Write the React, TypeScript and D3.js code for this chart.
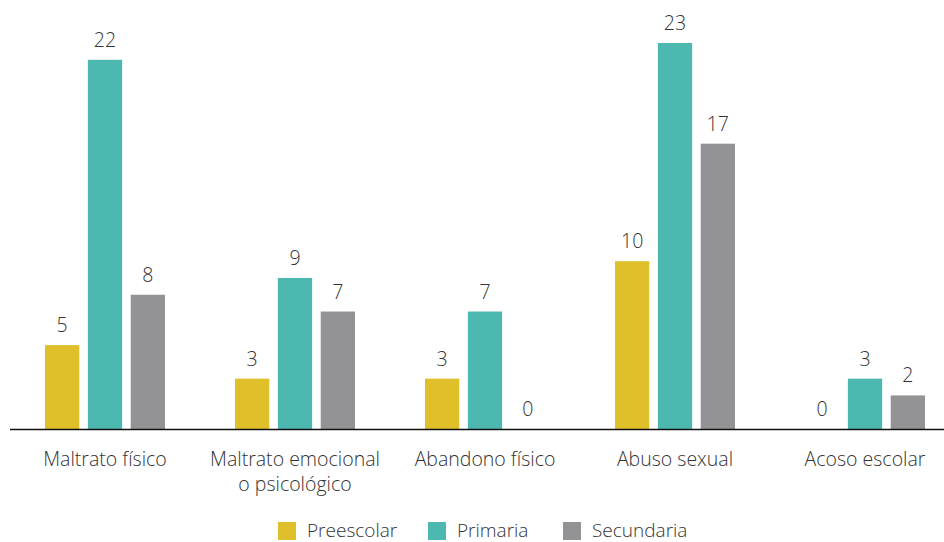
import { useEffect, useRef } from "react";
import * as d3 from "d3";

const CATEGORIES = [
  "Maltrato físico",
  "Maltrato emocional|o psicológico",
  "Abandono físico",
  "Abuso sexual",
  "Acoso escolar",
];
const SERIES = ["Preescolar", "Primaria", "Secundaria"];
const COLORS = ["#dfbf2a", "#4db8b0", "#939395"];
const PREESCOLAR = [5, 3, 3, 10, 0];
const PRIMARIA = [22, 9, 7, 23, 3];
const SECUNDARIA = [8, 7, 0, 17, 2];

const W = 944;
const H = 542;
const FONT = "'Open Sans', Lato, sans-serif";

export default function App() {
  const ref = useRef<SVGSVGElement | null>(null);

  useEffect(() => {
    if (!ref.current) return;
    const svg = d3.select(ref.current);
    svg.selectAll("*").remove();

    const values = [PREESCOLAR, PRIMARIA, SECUNDARIA];
    const baseY = 429;

    const x0 = d3.scaleBand().domain(CATEGORIES).range([10, 960]).padding(0);
    const x1 = d3.scaleBand().domain(SERIES).range([0, 120]).paddingInner(0.2);
    const y = d3.scaleLinear().domain([0, 23]).range([baseY, 43]);
    const off = (x0.bandwidth() - 120) / 2;

    const groups = svg.selectAll("g.grp")
      .data(CATEGORIES)
      .join("g")
      .attr("class", "grp")
      .attr("transform", d => `translate(${(x0(d) || 0) + off},0)`);

    groups.each(function (cat, ci) {
      const g = d3.select(this);
      SERIES.forEach((s, si) => {
        const v = values[si][ci];
        const bx = x1(s) || 0;
        if (v > 0) {
          g.append("rect")
            .attr("x", bx)
            .attr("y", y(v))
            .attr("width", x1.bandwidth())
            .attr("height", baseY - y(v))
            .attr("fill", COLORS[si]);
        }
        g.append("text")
          .attr("x", bx + x1.bandwidth() / 2)
          .attr("y", y(v) - 13)
          .attr("text-anchor", "middle")
          .style("font-family", FONT)
          .style("font-weight", 300)
          .style("font-size", "19.5px")
          .style("fill", "#333")
          .text(v);
      });
    });

    // axis line
    svg.append("line")
      .attr("x1", 10).attr("x2", W)
      .attr("y1", baseY + 0.5).attr("y2", baseY + 0.5)
      .attr("stroke", "#111")
      .attr("stroke-width", 1.5);

    // category labels
    CATEGORIES.forEach(c => {
      const lines = c.split("|");
      const t = svg.append("text")
        .attr("text-anchor", "middle")
        .style("font-family", FONT)
        .style("font-weight", 300)
        .style("font-size", "19.5px")
        .style("fill", "#333");
      lines.forEach((ln, i) => {
        t.append("tspan")
          .attr("x", (x0(c) || 0) + x0.bandwidth() / 2)
          .attr("y", 466 + i * 25)
          .text(ln);
      });
    });

    // legend
    const legendX = [278, 428, 563];
    SERIES.forEach((s, i) => {
      svg.append("rect")
        .attr("x", legendX[i]).attr("y", 522)
        .attr("width", 18).attr("height", 18)
        .attr("fill", COLORS[i]);
      svg.append("text")
        .attr("x", legendX[i] + 29).attr("y", 537)
        .style("font-family", FONT)
        .style("font-weight", 300)
        .style("font-size", "19px")
        .style("fill", "#333")
        .text(s);
    });
  }, []);

  return (
    <svg
      ref={ref}
      width={W}
      height={H}
      style={{ position: "absolute", left: 0, top: 0, background: "#fff" }}
    />
  );
}
